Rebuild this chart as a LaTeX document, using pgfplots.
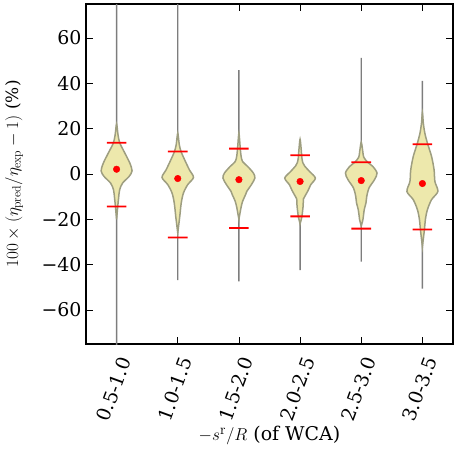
\documentclass[border=0pt]{standalone}
\usepackage[no-math]{fontspec}
\setmainfont{DejaVu Serif}
\usepackage{pgfplots}
\pgfplotsset{compat=1.18}
\definecolor{violinfill}{RGB}{237,232,172}
\definecolor{violinedge}{RGB}{158,158,128}
\definecolor{whisker}{RGB}{125,125,125}

\begin{document}
\begin{tikzpicture}
\path[use as bounding box] (-86bp,-113bp) rectangle (371bp,344bp);
\begin{axis}[
  scale only axis,
  width=367bp, height=340bp,
  xmin=0.5, xmax=6.5, ymin=-75, ymax=75,
  xtick={1,...,6},
  xticklabels={0.5-1.0,1.0-1.5,1.5-2.0,2.0-2.5,2.5-3.0,3.0-3.5},
  ytick={-60,-40,...,60},
  yticklabels={−60,−40,−20,0,20,40,60},
  tick align=inside,
  major tick length=7bp,
  tick style={black, line width=0.8bp},
  axis line style={line width=1.3bp},
  ticklabel style={font=\fontsize{19}{22}\selectfont},
  yticklabel style={xshift=-1bp},
  xticklabel style={xshift=9.8bp, yshift=-10.5bp, rotate=70, anchor=east},
  every axis y label/.style={at={(rel axis cs:0,0.5)}, xshift=-72bp, rotate=90, anchor=center, font=\fontsize{17}{20}\selectfont},
  every axis x label/.style={at={(rel axis cs:0.5,0)}, yshift=-91.5bp, anchor=center, font=\fontsize{19}{22}\selectfont},
  ylabel={$100\times(\eta_{\mathrm{pred}}/\eta_{\mathrm{exp}}-1)$ (\%)},
  xlabel={$-s^{\mathrm{r}}/R$ (of WCA)},
]
% extrema, as thin filled strips
\addplot[fill=whisker, draw=none, unbounded coords=jump] coordinates {
(0.988,-80) (1.012,-80) (1.012,80) (0.988,80) (1,nan)
(1.988,-46.8) (2.012,-46.8) (2.012,80) (1.988,80) (2,nan)
(2.988,-47.4) (3.012,-47.4) (3.012,45.8) (2.988,45.8) (3,nan)
(3.988,-42.4) (4.012,-42.4) (4.012,15.3) (3.988,15.3) (4,nan)
(4.988,-38.7) (5.012,-38.7) (5.012,51.2) (4.988,51.2) (5,nan)
(5.988,-50.6) (6.012,-50.6) (6.012,41.1) (5.988,41.1)
};
% violins
\addplot[fill=violinfill, draw=violinedge, line width=1.5bp, smooth] coordinates {
(1,-20) (1.020,-14) (1.033,-10.6) (1.050,-7) (1.098,-4) (1.204,-1.1) (1.253,1.4) (1.217,4.8) (1.136,9.2) (1.054,13.6) (1.025,17)
(1,22)
(0.975,17) (0.946,13.6) (0.864,9.2) (0.783,4.8) (0.747,1.4) (0.796,-1.1) (0.902,-4) (0.950,-7) (0.967,-10.6) (0.980,-14)
} -- cycle;
\addplot[fill=violinfill, draw=violinedge, line width=1.5bp, smooth] coordinates {
(2,-26) (2.033,-18.7) (2.057,-12.8) (2.093,-8.4) (2.163,-4.7) (2.257,-1.5) (2.191,1.8) (2.114,6.2) (2.054,9.9) (2.025,13)
(2,18)
(1.975,13) (1.946,9.9) (1.886,6.2) (1.809,1.8) (1.743,-1.5) (1.837,-4.7) (1.907,-8.4) (1.943,-12.8) (1.967,-18.7)
} -- cycle;
\addplot[fill=violinfill, draw=violinedge, line width=1.5bp, smooth] coordinates {
(3,-20) (3.033,-15) (3.060,-12.1) (3.110,-9) (3.128,-7.7) (3.204,-4.7) (3.261,-1.8) (3.237,0.4) (3.144,3.3) (3.060,5.5) (3.035,8) (3.020,12)
(3,18)
(2.980,12) (2.965,8) (2.940,5.5) (2.856,3.3) (2.763,0.4) (2.739,-1.8) (2.796,-4.7) (2.872,-7.7) (2.890,-9) (2.940,-12.1) (2.967,-15)
} -- cycle;
\addplot[fill=violinfill, draw=violinedge, line width=1.5bp, smooth] coordinates {
(4,-22) (4.030,-18.7) (4.050,-14) (4.055,-11) (4.077,-9.9) (4.136,-7) (4.175,-4.7) (4.250,-1.8) (4.155,1.1) (4.075,3.5) (4.045,5) (4.030,7) (4.018,11)
(4,15.3)
(3.982,11) (3.970,7) (3.955,5) (3.925,3.5) (3.845,1.1) (3.750,-1.8) (3.825,-4.7) (3.864,-7) (3.923,-9.9) (3.945,-11) (3.950,-14) (3.970,-18.7)
} -- cycle;
\addplot[fill=violinfill, draw=violinedge, line width=1.5bp, smooth] coordinates {
(5,-23) (5.028,-20) (5.049,-15.7) (5.077,-12.8) (5.090,-9.9) (5.126,-6.2) (5.217,-2.5) (5.258,0.4) (5.191,3.3) (5.100,5.3) (5.040,7.5) (5.025,10)
(5,14)
(4.975,10) (4.960,7.5) (4.900,5.3) (4.809,3.3) (4.742,0.4) (4.783,-2.5) (4.874,-6.2) (4.910,-9.9) (4.923,-12.8) (4.951,-15.7) (4.972,-20)
} -- cycle;
\addplot[fill=violinfill, draw=violinedge, line width=1.5bp, smooth] coordinates {
(6,-32) (6.033,-24.5) (6.049,-20) (6.082,-15.7) (6.150,-11.3) (6.253,-7.7) (6.204,-3.3) (6.191,1.8) (6.150,7.7) (6.082,13.6) (6.040,18) (6.015,22.4)
(6,27)
(5.985,22.4) (5.960,18) (5.918,13.6) (5.850,7.7) (5.809,1.8) (5.796,-3.3) (5.747,-7.7) (5.850,-11.3) (5.918,-15.7) (5.951,-20) (5.967,-24.5)
} -- cycle;
% percentile bars, as filled strips
\addplot[fill=red, draw=none, unbounded coords=jump] coordinates {
(0.84,13.4) (1.16,13.4) (1.16,14.2) (0.84,14.2) (1,nan)
(0.84,-14.7) (1.16,-14.7) (1.16,-13.9) (0.84,-13.9) (1,nan)
(1.84,9.5) (2.16,9.5) (2.16,10.3) (1.84,10.3) (2,nan)
(1.84,-28.4) (2.16,-28.4) (2.16,-27.6) (1.84,-27.6) (2,nan)
(2.84,10.8) (3.16,10.8) (3.16,11.6) (2.84,11.6) (3,nan)
(2.84,-24.2) (3.16,-24.2) (3.16,-23.4) (2.84,-23.4) (3,nan)
(3.84,7.9) (4.16,7.9) (4.16,8.7) (3.84,8.7) (4,nan)
(3.84,-19.1) (4.16,-19.1) (4.16,-18.3) (3.84,-18.3) (4,nan)
(4.84,4.8) (5.16,4.8) (5.16,5.6) (4.84,5.6) (5,nan)
(4.84,-24.5) (5.16,-24.5) (5.16,-23.7) (4.84,-23.7) (5,nan)
(5.84,12.7) (6.16,12.7) (6.16,13.5) (5.84,13.5) (6,nan)
(5.84,-24.9) (6.16,-24.9) (6.16,-24.1) (5.84,-24.1)
};
% medians
\addplot[red, only marks, mark=*, mark size=3.3bp, mark options={draw=red, fill=red}] coordinates {
(1,2.1) (2,-2.0) (3,-2.5) (4,-3.3) (5,-2.9) (6,-4.2)
};
\end{axis}
\end{tikzpicture}
\end{document}
